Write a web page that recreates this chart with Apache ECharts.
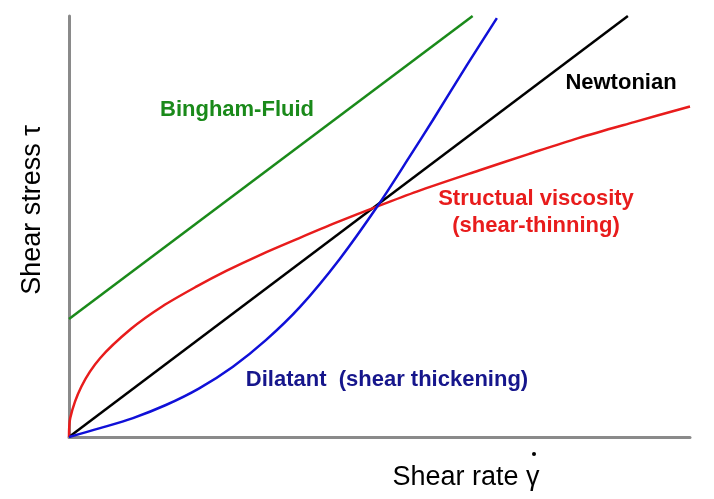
<!DOCTYPE html>
<html>
<head>
<meta charset="utf-8">
<script src="https://cdn.jsdelivr.net/npm/echarts@6/dist/echarts.min.js"></script>
<style>
  html, body { margin:0; padding:0; background:#fff; }
  #main { width:714px; height:499px; }
</style>
</head>
<body>
<div id="main"></div>
<script>
// curves, x = shear rate, y = shear stress (0..10 both)
var bingham = [[0, 2.8], [6.5, 10]];
var newtonian = [[0, 0], [9, 10]];
var structural = [[0, 0], [0.02, 0.45], [0.2, 1.2], [0.5, 1.87], [1.0, 2.57], [1.5, 3.1],
  [2.05, 3.57], [2.54, 3.95], [3.1, 4.34], [3.7, 4.72], [4.3, 5.09], [4.97, 5.48], [5.6, 5.83],
  [6.6, 6.33], [7.4, 6.72], [8.2, 7.1], [9.1, 7.48], [10, 7.85]];
var dilatant = [[0, 0], [0.5, 0.21], [1.03, 0.45], [1.56, 0.76], [2.09, 1.15], [2.64, 1.67],
  [3.17, 2.3], [3.72, 3.09], [4.36, 4.23], [4.98, 5.51], [5.49, 6.67], [5.86, 7.53],
  [6.41, 8.84], [6.89, 9.95]];

var font = 'bold 22px "Liberation Sans", Arial, sans-serif';
var fontAxis = '27px "Liberation Sans", Arial, sans-serif';

var myChart = echarts.init(document.getElementById('main'));

function axis() {
  return {
    type: 'value',
    min: 0,
    max: 10,
    axisLine: { show: true, lineStyle: { color: '#8a8a8a', width: 3 } },
    axisTick: { show: false },
    axisLabel: { show: false },
    splitLine: { show: false }
  };
}

function curve(name, data, color, smooth) {
  return {
    name: name,
    type: 'line',
    data: data,
    showSymbol: false,
    smooth: smooth,
    lineStyle: { color: color, width: 2.5 },
    animation: false
  };
}

var option = {
  animation: false,
  grid: { left: 69, top: 16, right: 24, bottom: 62 },
  xAxis: axis(),
  yAxis: axis(),
  series: [
    curve('Bingham-Fluid', bingham, '#1a8a1a', false),
    curve('Newtonian', newtonian, '#000000', false),
    curve('Structual viscosity', structural, '#e81c1c', 0.3),
    curve('Dilatant', dilatant, '#1010d8', 0.3)
  ],
  graphic: [
    { type: 'text', x: 237, y: 110, style: { text: 'Bingham-Fluid', fill: '#1a8a1a', font: font, textAlign: 'center', textVerticalAlign: 'middle' } },
    { type: 'text', x: 621, y: 83, style: { text: 'Newtonian', fill: '#000', font: font, textAlign: 'center', textVerticalAlign: 'middle' } },
    { type: 'text', x: 536, y: 199, style: { text: 'Structual viscosity', fill: '#e81c1c', font: font, textAlign: 'center', textVerticalAlign: 'middle' } },
    { type: 'text', x: 536, y: 226, style: { text: '(shear-thinning)', fill: '#e81c1c', font: font, textAlign: 'center', textVerticalAlign: 'middle' } },
    { type: 'text', x: 387, y: 380, style: { text: 'Dilatant  (shear thickening)', fill: '#16168c', font: font, textAlign: 'center', textVerticalAlign: 'middle' } },
    // axis titles
    { type: 'text', x: 33, y: 210, rotation: Math.PI / 2, style: { text: 'Shear stress τ', fill: '#000', font: fontAxis, textAlign: 'center', textVerticalAlign: 'middle' } },
    { type: 'text', x: 466, y: 478, style: { text: 'Shear rate γ', fill: '#000', font: fontAxis, textAlign: 'center', textVerticalAlign: 'middle' } },
    { type: 'circle', shape: { cx: 534, cy: 454, r: 2 }, style: { fill: '#000' } }
  ]
};

myChart.setOption(option);
</script>
</body>
</html>
